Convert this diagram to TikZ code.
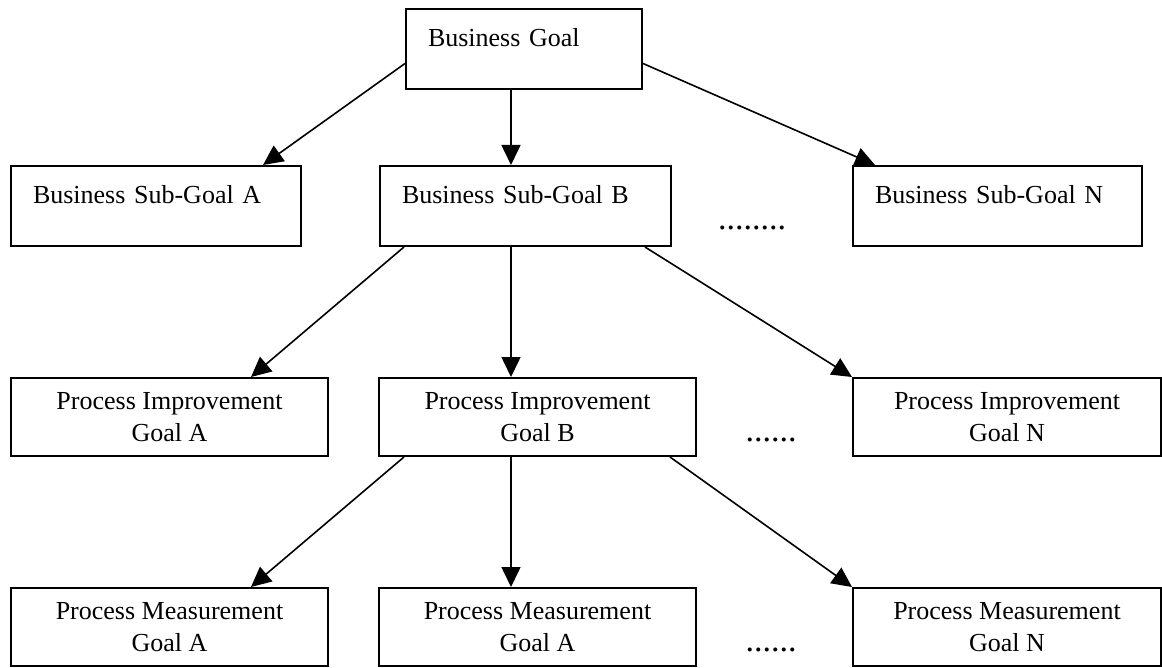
\documentclass[tikz,border=0pt]{standalone}
\usepackage{fontspec}
\setmainfont{Liberation Serif}
\usetikzlibrary{arrows.meta}

\begin{document}
\begin{tikzpicture}[x=0.5pt,y=-0.5pt,>={Triangle[length=10pt,width=9.5pt]},
  font=\fontsize{13pt}{16pt}\selectfont,
  subgoal/.style={draw,line width=1pt,anchor=north west,align=left,inner xsep=11pt,inner ysep=0pt,text height=19pt,text depth=21pt,text width=#1},
  procgoal/.style={draw,line width=1pt,anchor=north west,align=center,inner sep=0pt,minimum width=#1,minimum height=39pt},
  more/.style={anchor=base,font=\fontsize{17pt}{20pt}\selectfont},
  link/.style={->,line width=0.8pt}]
\useasboundingbox (0,0) rectangle (1162,668);
% business goals
\node[subgoal=96pt] (bg) at (405,8) {Business Goal};
\node[subgoal=123pt] (sga) at (10,165) {Business Sub-Goal A};
\node[subgoal=123.5pt] (sgb) at (379,165) {Business Sub-Goal B};
\node[subgoal=122.5pt] (sgn) at (852,165) {Business Sub-Goal N};
\node[more] (dotsg) at (752,230) {........};
% improvement goals
\node[procgoal=158.5pt] (pia) at (10,377) {Process Improvement\\Goal A};
\node[procgoal=158.5pt] (pib) at (378,377) {Process Improvement\\Goal B};
\node[procgoal=154pt] (pin) at (852,377) {Process Improvement\\Goal N};
\node[more] (dotsi) at (771,441) {......};
% measurement goals
\node[procgoal=158.5pt] (pma) at (10,587) {Process Measurement\\Goal A};
\node[procgoal=158.5pt] (pmb) at (378,587) {Process Measurement\\Goal A};
\node[procgoal=154pt] (pmn) at (852,587) {Process Measurement\\Goal N};
\node[more] (dotsm) at (771,651) {......};
% links
\draw[link] ([yshift=-7.25pt]bg.west) -- ([xshift=-19.5pt]sga.north east);
\draw[link] ([xshift=-6.5pt]bg.south) -- ([xshift=-6.5pt]bg.south |- sgb.north);
\draw[link] ([yshift=-7.25pt]bg.east) -- ([xshift=11.5pt]sgn.north west);
\draw[link] ([xshift=12.5pt]sgb.south west) -- ([xshift=-39pt]pia.north east);
\draw[link] ([xshift=-7.25pt]sgb.south) -- ([xshift=-7.25pt]sgb.south |- pib.north);
\draw[link] ([xshift=-13.5pt]sgb.south east) -- (pin.north west);
\draw[link] ([xshift=13pt]pib.south west) -- ([xshift=-39pt]pma.north east);
\draw[link] ([xshift=-13.25pt]pib.south) -- ([xshift=-13.25pt]pib.south |- pmb.north);
\draw[link] ([xshift=-13.5pt]pib.south east) -- (pmn.north west);
\end{tikzpicture}
\end{document}
